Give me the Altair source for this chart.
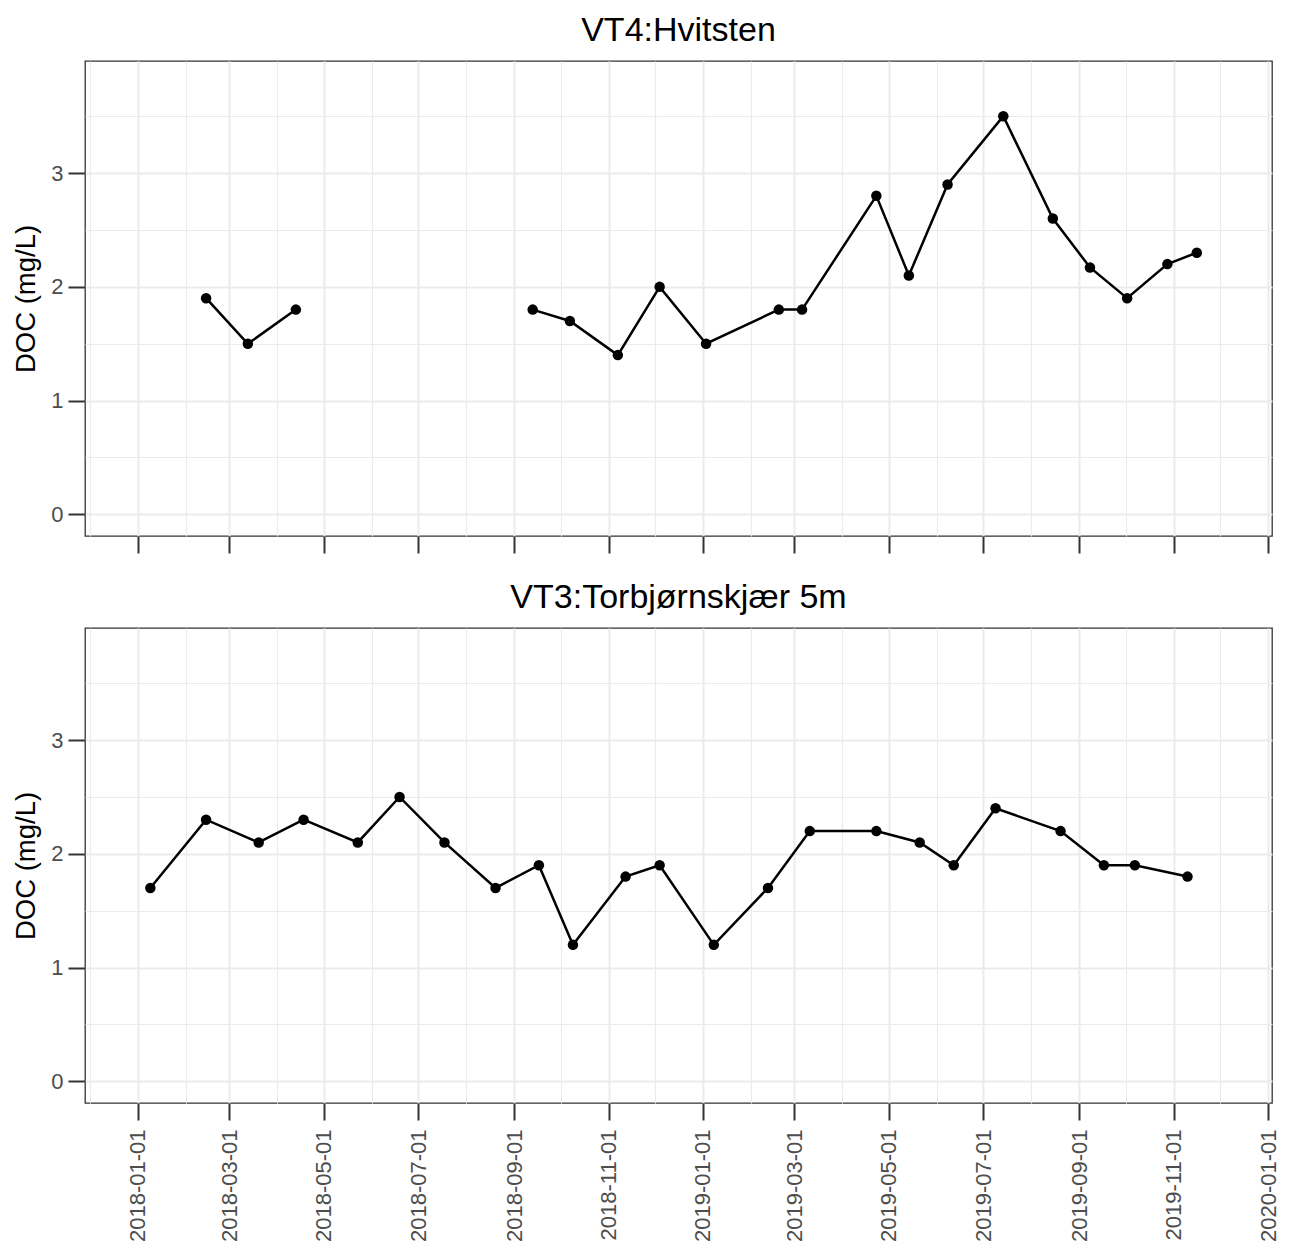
import altair as alt
import pandas as pd

top_title = "VT4:Hvitsten"
bottom_title = "VT3:Torbjørnskjær 5m"
y_title = "DOC (mg/L)"

top_dates = ["2018-02-14", "2018-03-13", "2018-04-13", "2018-06-19", "2018-09-13",
             "2018-10-07", "2018-11-07", "2018-12-04", "2019-01-03", "2019-02-19",
             "2019-03-06", "2019-04-23", "2019-05-14", "2019-06-08", "2019-07-14",
             "2019-08-15", "2019-09-08", "2019-10-02", "2019-10-28", "2019-11-16"]
top_doc = [1.9, 1.5, 1.8, None, 1.8,
           1.7, 1.4, 2.0, 1.5, 1.8,
           1.8, 2.8, 2.1, 2.9, 3.5,
           2.6, 2.17, 1.9, 2.2, 2.3]

bottom_dates = ["2018-01-09", "2018-02-14", "2018-03-20", "2018-04-18", "2018-05-23",
                "2018-06-19", "2018-07-18", "2018-08-20", "2018-09-17", "2018-10-09",
                "2018-11-12", "2018-12-04", "2019-01-08", "2019-02-12", "2019-03-11",
                "2019-04-23", "2019-05-21", "2019-06-12", "2019-07-09", "2019-08-20",
                "2019-09-17", "2019-10-07", "2019-11-10"]
bottom_doc = [1.7, 2.3, 2.1, 2.3, 2.1,
              2.5, 2.1, 1.7, 1.9, 1.2,
              1.8, 1.9, 1.2, 1.7, 2.2,
              2.2, 2.1, 1.9, 2.4, 2.2,
              1.9, 1.9, 1.8]

# monthly grid/tick positions (major = every second month, labelled)
tick_months = [(2017, 12)] + [(y, m) for y in (2018, 2019) for m in range(1, 13)] + [(2020, 1)]
y_values = [0, 0.5, 1, 1.5, 2, 2.5, 3, 3.5]


def make_df(dates, vals):
    df = pd.DataFrame({"date": dates, "doc": vals})
    df["seg"] = df["doc"].isna().cumsum()
    return df.dropna()


FONT = "Liberation Sans"
x_ticks = [alt.DateTime(year=y, month=m, date=1, utc=True) for y, m in tick_months]
x_major = "utcmonth(datum.value) % 2 == 0"
y_major = "datum.value % 1 == 0"

x_domain = [alt.DateTime(year=2017, month=11, date=27, hours=19, utc=True),
            alt.DateTime(year=2020, month=1, date=3, hours=14, utc=True)]
y_domain = [-0.19, 3.985]


def x_axis(show_labels):
    kw = dict(
        values=x_ticks, title=None, grid=True, domain=False,
        gridColor="#ebebeb",
        gridWidth={"condition": {"test": x_major, "value": 2}, "value": 1.1},
        tickColor="#333333", tickWidth=2, tickSize=17,
        tickOpacity={"condition": {"test": x_major, "value": 1}, "value": 0},
        labelFont=FONT, labelFontSize=22, labelColor="#4d4d4d",
    )
    if show_labels:
        kw.update(labels=True, labelAngle=270, labelAlign="right", labelBaseline="middle",
                  labelPadding=9, labelOverlap=False, labelFlush=False,
                  labelExpr=f"{x_major} ? utcFormat(datum.value, '%Y-%m-%d') : ''")
    else:
        kw.update(labels=False)
    return alt.Axis(**kw)


y_axis = alt.Axis(
    values=y_values, title=y_title, grid=True, domain=False,
    gridColor="#ebebeb",
    gridWidth={"condition": {"test": y_major, "value": 2}, "value": 1.1},
    tickColor="#333333", tickWidth=2, tickSize=17,
    tickOpacity={"condition": {"test": y_major, "value": 1}, "value": 0},
    labelExpr=f"{y_major} ? format(datum.value, 'd') : ''",
    labelFont=FONT, labelFontSize=22, labelColor="#4d4d4d", labelPadding=5,
    labelOverlap=False, labelFlush=False,
    titleFont=FONT, titleFontSize=27.5, titleColor="black", titleFontWeight="normal",
    titlePadding=10,
)


def panel(df, title, show_labels):
    base = alt.Chart(df).encode(
        x=alt.X("date:T", scale=alt.Scale(type="utc", domain=x_domain, nice=False),
                axis=x_axis(show_labels)),
        y=alt.Y("doc:Q", scale=alt.Scale(domain=y_domain, nice=False, zero=False),
                axis=y_axis),
    )
    line = base.mark_line(color="black", strokeWidth=2.5).encode(detail="seg:N")
    pts = base.mark_circle(color="black", size=110, opacity=1)
    return alt.layer(line, pts).properties(
        width=1187, height=475,
        title=alt.TitleParams(title, font=FONT, fontSize=34, fontWeight="normal",
                              color="black", anchor="middle", offset=13),
    )


top = panel(make_df(top_dates, top_doc), top_title, False)
bottom = panel(make_df(bottom_dates, bottom_doc), bottom_title, True)

chart = alt.vconcat(top, bottom, spacing=25).properties(
    padding={"left": 4, "top": 5, "right": 0, "bottom": 0}
).configure_view(stroke="#333333", strokeWidth=1.3)

chart.save("out.html", embed_options={"renderer": "svg", "actions": False})
